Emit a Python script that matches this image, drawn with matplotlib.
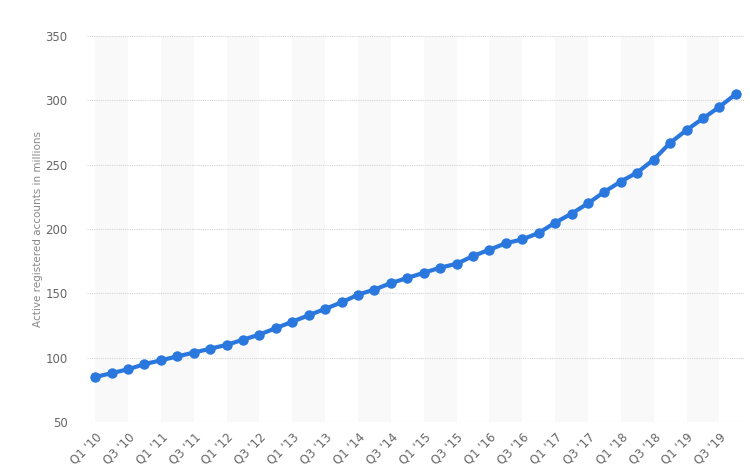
import numpy as np
import matplotlib.pyplot as plt

# quarterly active registered accounts, Q1 '10 .. Q4 '19
years = list(range(10, 20))
quarters = []
for y in years:
    for q in range(1, 5):
        quarters.append("Q%d '%d" % (q, y))

accounts = [85, 88, 91, 95, 98, 101, 104, 107,
            110, 114, 118, 123, 128, 133, 138, 143,
            149, 153, 158, 162, 166, 170, 173, 179,
            184, 189, 192, 197, 205, 212, 220, 229,
            237, 244, 254, 267, 277, 286, 295, 305]

blue = '#2a78de'
x = np.arange(len(quarters))

fig = plt.figure(figsize=(7.5, 4.76), dpi=100)
ax = fig.add_axes([0.116, 0.1134, 0.876, 0.8106])

# alternating light bands, two quarters wide
for start in range(0, len(quarters), 4):
    ax.axvspan(start, start + 2, color='#f9f9f9', zorder=0, lw=0)

ax.plot(x, accounts, color=blue, lw=3, marker='o', ms=6.5, zorder=3)

ax.set_xlim(-0.5, len(quarters) - 0.5)
ax.set_ylim(50, 350)
ax.set_yticks(range(50, 351, 50))
ax.yaxis.grid(True, color='#d4d4d4', ls=(0, (1, 1)), lw=0.8)
ax.set_axisbelow(True)

ax.set_xticks(x[::2])
ax.set_xticklabels(quarters[::2], rotation=45, ha='right', va='top',
                   rotation_mode='anchor', color='#666666', fontsize=8.5)
ax.tick_params(axis='y', colors='#666666', labelsize=8.5, length=0, pad=14)
ax.tick_params(axis='x', length=0, pad=6)
for s in ax.spines.values():
    s.set_visible(False)

ax.set_ylabel('Active registered accounts in millions', color='#888888',
              fontsize=7.5, labelpad=2)

fig.savefig('out.png', dpi=100)
